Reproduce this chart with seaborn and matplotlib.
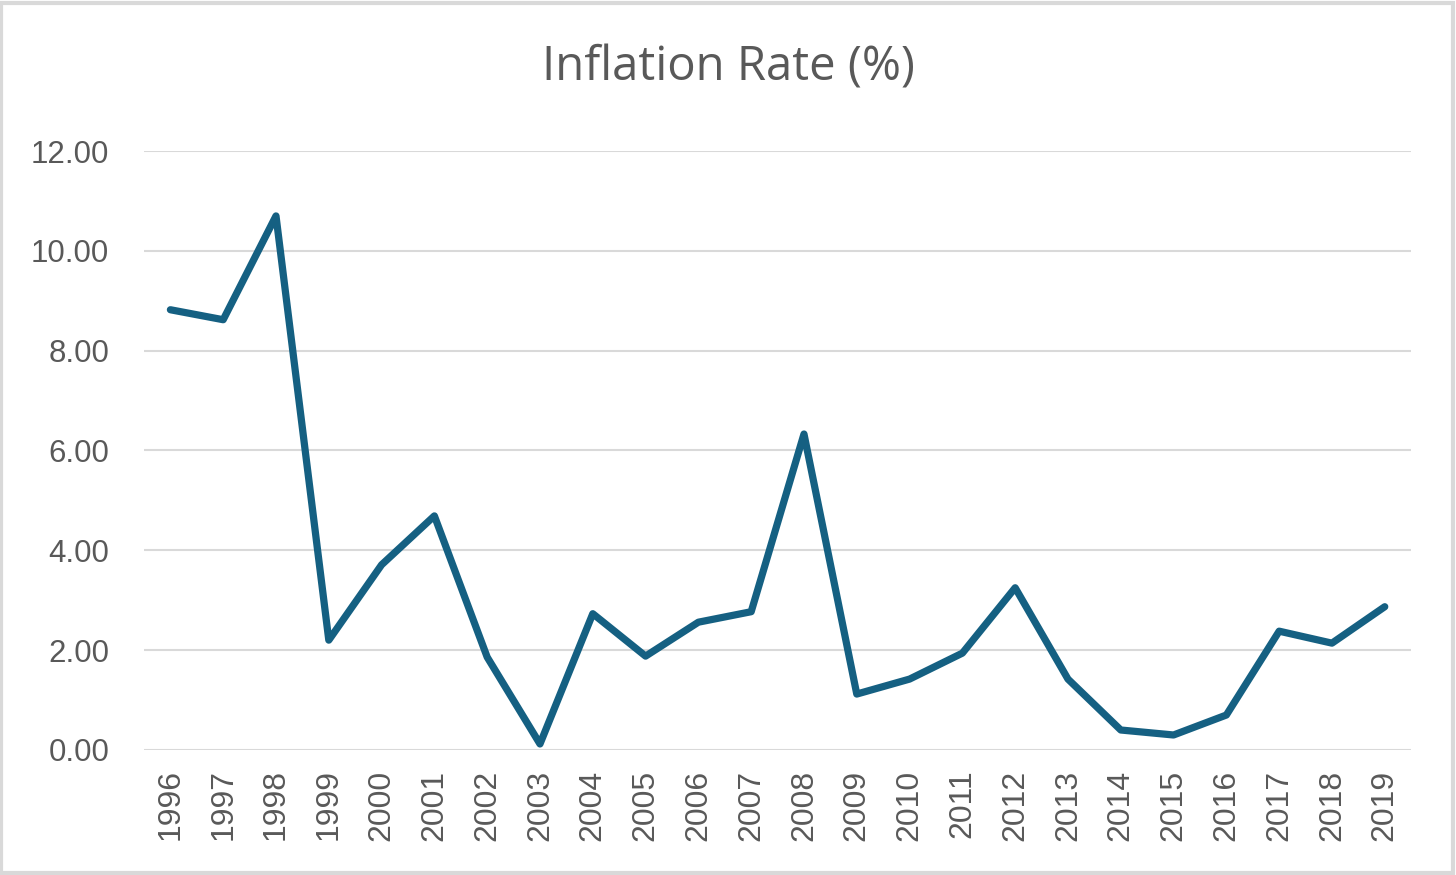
import pandas as pd
import matplotlib
matplotlib.use("Agg")
import matplotlib.pyplot as plt
import seaborn as sns

# --- Data ---
years = [str(y) for y in range(1996, 2020)]
inflation = [8.82, 8.62, 10.70, 2.20, 3.71, 4.69, 1.86, 0.12, 2.73, 1.88,
             2.56, 2.77, 6.33, 1.12, 1.42, 1.94, 3.25, 1.42, 0.40, 0.30,
             0.70, 2.38, 2.14, 2.87]
y_ticks = [0, 2, 4, 6, 8, 10, 12]

df = pd.DataFrame({"Year": years, "Inflation": inflation})

sns.set_theme(style="white")
plt.rcParams['font.family'] = ['Liberation Sans', 'DejaVu Sans']

fig = plt.figure(figsize=(14.56, 8.75), dpi=100)
ax = fig.add_axes([0.0989, 0.1429, 0.8703, 0.6845])

sns.lineplot(data=df, x="Year", y="Inflation", ax=ax, color="#156082",
             linewidth=5.2, sort=False, solid_joinstyle='round',
             solid_capstyle='round')

ax.set_xlim(-0.5, len(years) - 0.5)
ax.set_ylim(0, 12)
ax.set_yticks(y_ticks)
ax.set_yticklabels([f"{v:.2f}" for v in y_ticks])
ax.yaxis.grid(True, color="#d9d9d9", linewidth=1.5)
ax.set_axisbelow(True)
for s in ax.spines.values():
    s.set_visible(False)
ax.tick_params(axis='x', labelrotation=90, labelsize=23, colors="#595959", length=0, pad=14)
ax.tick_params(axis='y', labelsize=22.5, colors="#595959", length=0, pad=25)
ax.set_xlabel("")
ax.set_ylabel("")

fig.text(0.5, 0.922, "Inflation Rate (%)", ha='center', va='center',
         fontsize=34, color="#595959", family=['Open Sans', 'DejaVu Sans'])

# light frame around the whole chart
fig.patches.append(plt.Rectangle((0.001, 0.002), 0.997, 0.995, transform=fig.transFigure,
                                 fill=False, edgecolor="#d9d9d9", linewidth=3))

fig.savefig("out.png", dpi=100)
